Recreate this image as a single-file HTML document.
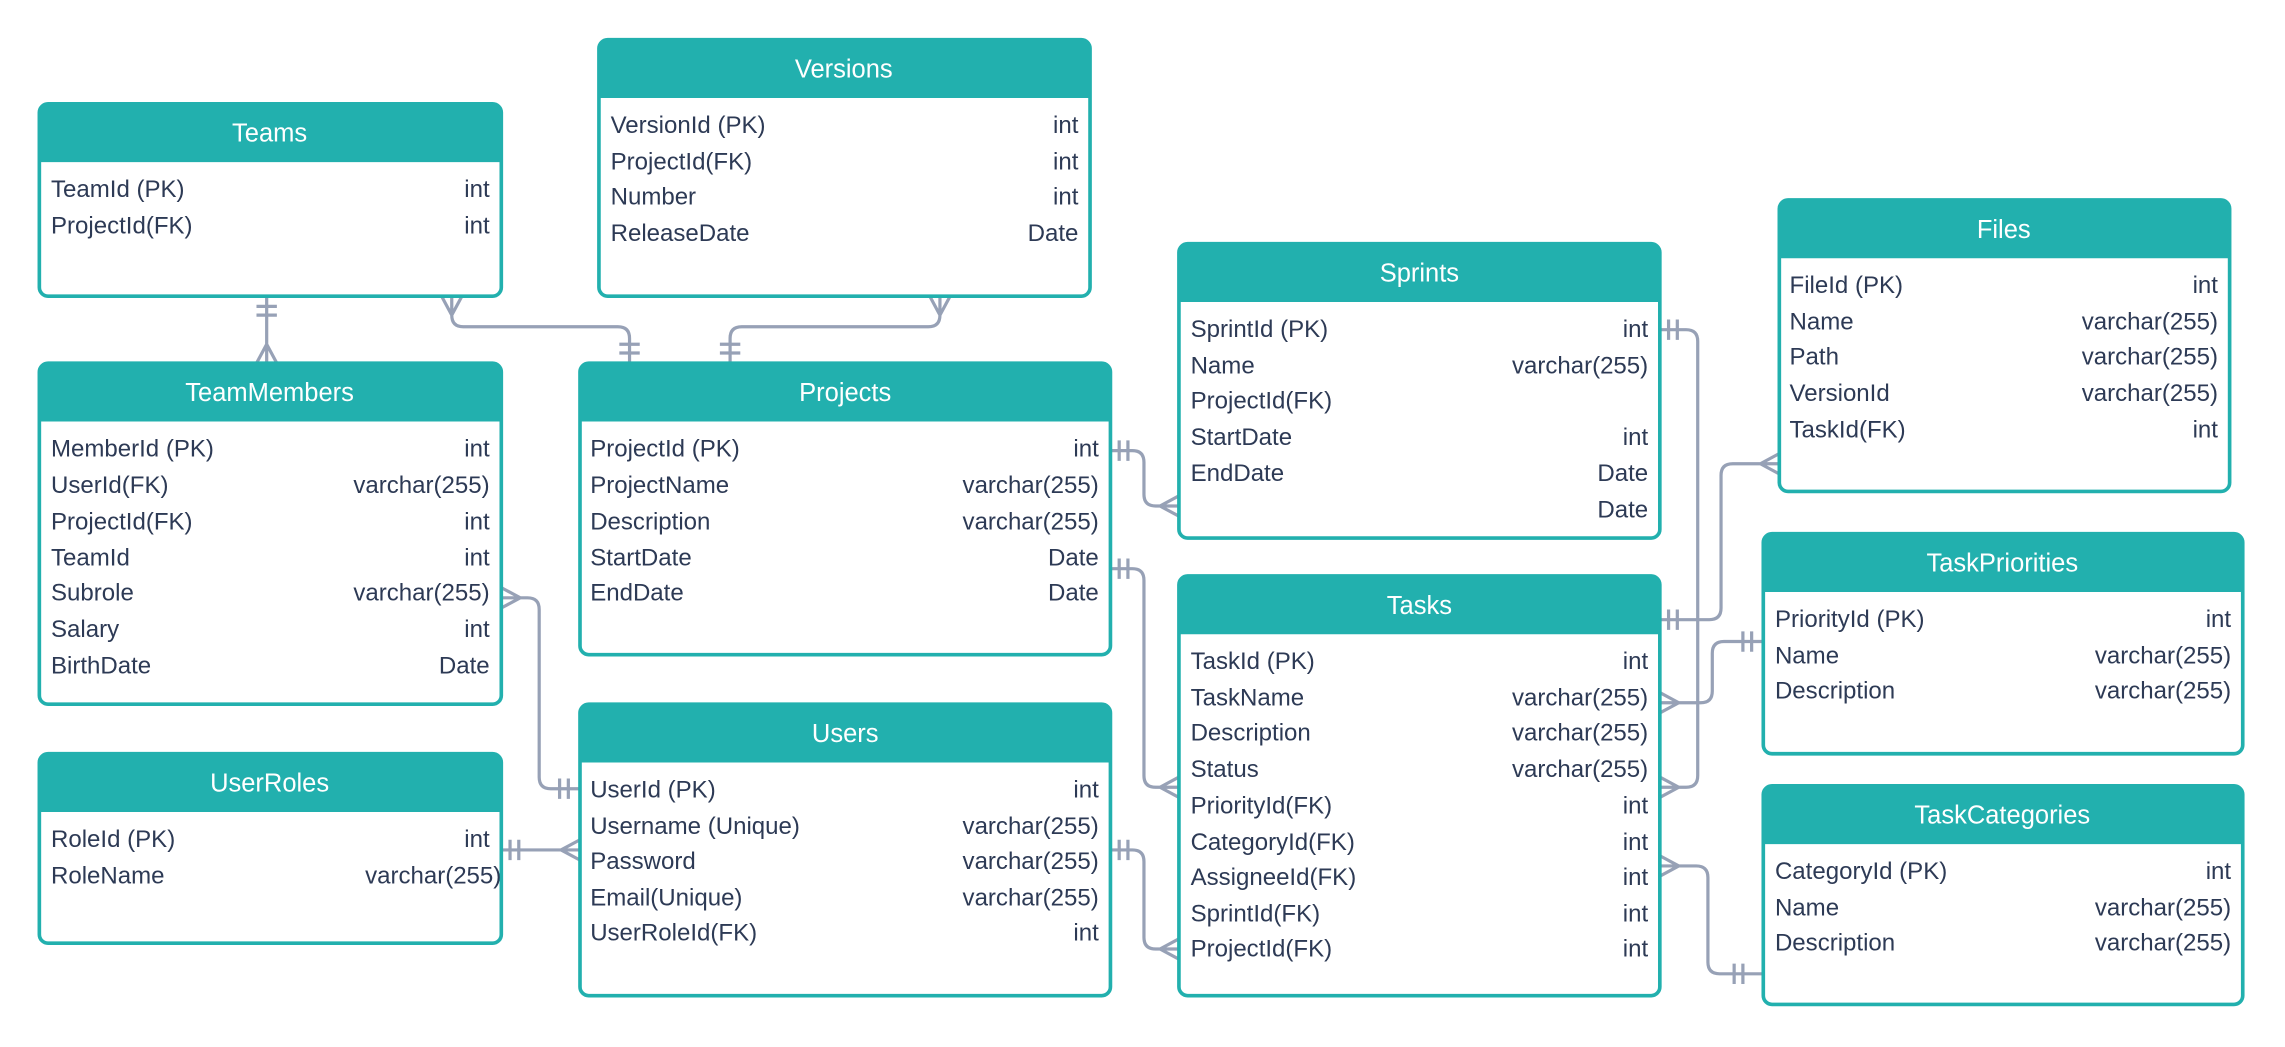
<!DOCTYPE html>
<html><head><meta charset="utf-8"><style>
html,body{margin:0;padding:0;background:#fff;}
svg{display:block}
.t{font-family:"Liberation Sans",sans-serif;font-size:16.5px;fill:#2d3a55}
.h{font-family:"Liberation Sans",sans-serif;font-size:17.5px;fill:#fff;text-anchor:middle}
.r{text-anchor:end}
.c{fill:none;stroke:#97a1b6;stroke-width:2.2}
</style></head><body>
<svg width="2285" height="1047" viewBox="0 0 1568 718" xmlns="http://www.w3.org/2000/svg">
<defs></defs>
<!-- connectors -->
<g class="c">
<path d="M183 203V249M176 210H190M176 216H190M183 236L176 249M183 236L190 249"/>
<path d="M310 203V216Q310 224 318 224H424Q432 224 432 232V249M310 216L303 203M310 216L317 203M425 236H439M425 242H439"/>
<path d="M645 203V216Q645 224 637 224H509Q501 224 501 232V249M645 216L638 203M645 216L652 203M494 236H508M494 242H508"/>
<path d="M762 309H777Q785 309 785 317V339Q785 347 793 347H809M768 302V316M774 302V316M796 347L809 340M796 347L809 354"/>
<path d="M762 390H777Q785 390 785 398V532Q785 540 793 540H809M768 383V397M774 383V397M796 540L809 533M796 540L809 547"/>
<path d="M344 410H362Q370 410 370 418V533Q370 541 378 541H398M357 410L344 403M357 410L344 417M384 534V548M390 534V548"/>
<path d="M344 583H398M350 576V590M356 576V590M385 583L398 576M385 583L398 590"/>
<path d="M762 583H777Q785 583 785 591V643Q785 651 793 651H809M768 576V590M774 576V590M796 651L809 644M796 651L809 658"/>
<path d="M1139 226H1157Q1165 226 1165 234V532Q1165 540 1157 540H1139M1145 219V233M1151 219V233M1152 540L1139 533M1152 540L1139 547"/>
<path d="M1139 425H1173Q1181 425 1181 417V326Q1181 318 1189 318H1221M1145 418V432M1151 418V432M1208 318L1221 311M1208 318L1221 325"/>
<path d="M1139 482H1167Q1175 482 1175 474V448Q1175 440 1183 440H1210M1152 482L1139 475M1152 482L1139 489M1196 433V447M1202 433V447"/>
<path d="M1139 594H1164Q1172 594 1172 602V660Q1172 668 1180 668H1210M1152 594L1139 587M1152 594L1139 601M1190 661V675M1196 661V675"/>
</g>
<!-- tables -->
<g stroke="#22b0ae" stroke-width="2.5" fill="#fff">
<rect x="27" y="71" width="317" height="132" rx="6"/>
<rect x="411" y="27" width="337" height="176" rx="6"/>
<rect x="27" y="249" width="317" height="234" rx="6"/>
<rect x="398" y="249" width="364" height="200" rx="6"/>
<rect x="809" y="167" width="330" height="202" rx="6"/>
<rect x="1221" y="137" width="309" height="200" rx="6"/>
<rect x="1210" y="366" width="329" height="151" rx="6"/>
<rect x="809" y="395" width="330" height="288" rx="6"/>
<rect x="1210" y="539" width="329" height="150" rx="6"/>
<rect x="27" y="517" width="317" height="130" rx="6"/>
<rect x="398" y="483" width="364" height="200" rx="6"/>
</g>
<g fill="#22b0ae">
<path d="M27 111V77Q27 71 33 71H338Q344 71 344 77V111Z"/>
<path d="M411 67V33Q411 27 417 27H742Q748 27 748 33V67Z"/>
<path d="M27 289V255Q27 249 33 249H338Q344 249 344 255V289Z"/>
<path d="M398 289V255Q398 249 404 249H756Q762 249 762 255V289Z"/>
<path d="M809 207V173Q809 167 815 167H1133Q1139 167 1139 173V207Z"/>
<path d="M1221 177V143Q1221 137 1227 137H1524Q1530 137 1530 143V177Z"/>
<path d="M1210 406V372Q1210 366 1216 366H1533Q1539 366 1539 372V406Z"/>
<path d="M809 435V401Q809 395 815 395H1133Q1139 395 1139 401V435Z"/>
<path d="M1210 579V545Q1210 539 1216 539H1533Q1539 539 1539 545V579Z"/>
<path d="M27 557V523Q27 517 33 517H338Q344 517 344 523V557Z"/>
<path d="M398 523V489Q398 483 404 483H756Q762 483 762 489V523Z"/>
</g>
<text class="h" x="185" y="97">Teams</text>
<text class="h" x="579" y="53">Versions</text>
<text class="h" x="185" y="275">TeamMembers</text>
<text class="h" x="580" y="275">Projects</text>
<text class="h" x="974" y="193">Sprints</text>
<text class="h" x="1375" y="163">Files</text>
<text class="h" x="1374" y="392">TaskPriorities</text>
<text class="h" x="974" y="421">Tasks</text>
<text class="h" x="1374" y="565">TaskCategories</text>
<text class="h" x="185" y="543">UserRoles</text>
<text class="h" x="580" y="509">Users</text>
<g class="t">
<text x="35" y="135">TeamId (PK)</text><text class="r" x="336" y="135">int</text>
<text x="35" y="160">ProjectId(FK)</text><text class="r" x="336" y="160">int</text>

<text x="419" y="91">VersionId (PK)</text><text class="r" x="740" y="91">int</text>
<text x="419" y="116">ProjectId(FK)</text><text class="r" x="740" y="116">int</text>
<text x="419" y="140">Number</text><text class="r" x="740" y="140">int</text>
<text x="419" y="165">ReleaseDate</text><text class="r" x="740" y="165">Date</text>

<text x="35" y="313">MemberId (PK)</text><text class="r" x="336" y="313">int</text>
<text x="35" y="338">UserId(FK)</text><text class="r" x="336" y="338">varchar(255)</text>
<text x="35" y="363">ProjectId(FK)</text><text class="r" x="336" y="363">int</text>
<text x="35" y="388">TeamId</text><text class="r" x="336" y="388">int</text>
<text x="35" y="412">Subrole</text><text class="r" x="336" y="412">varchar(255)</text>
<text x="35" y="437">Salary</text><text class="r" x="336" y="437">int</text>
<text x="35" y="462">BirthDate</text><text class="r" x="336" y="462">Date</text>

<text x="405" y="313">ProjectId (PK)</text><text class="r" x="754" y="313">int</text>
<text x="405" y="338">ProjectName</text><text class="r" x="754" y="338">varchar(255)</text>
<text x="405" y="363">Description</text><text class="r" x="754" y="363">varchar(255)</text>
<text x="405" y="388">StartDate</text><text class="r" x="754" y="388">Date</text>
<text x="405" y="412">EndDate</text><text class="r" x="754" y="412">Date</text>

<text x="817" y="231">SprintId (PK)</text><text class="r" x="1131" y="231">int</text>
<text x="817" y="256">Name</text><text class="r" x="1131" y="256">varchar(255)</text>
<text x="817" y="280">ProjectId(FK)</text>
<text x="817" y="305">StartDate</text><text class="r" x="1131" y="305">int</text>
<text x="817" y="330">EndDate</text><text class="r" x="1131" y="330">Date</text>
<text class="r" x="1131" y="355">Date</text>

<text x="1228" y="201">FileId (PK)</text><text class="r" x="1522" y="201">int</text>
<text x="1228" y="226">Name</text><text class="r" x="1522" y="226">varchar(255)</text>
<text x="1228" y="250">Path</text><text class="r" x="1522" y="250">varchar(255)</text>
<text x="1228" y="275">VersionId</text><text class="r" x="1522" y="275">varchar(255)</text>
<text x="1228" y="300">TaskId(FK)</text><text class="r" x="1522" y="300">int</text>

<text x="1218" y="430">PriorityId (PK)</text><text class="r" x="1531" y="430">int</text>
<text x="1218" y="455">Name</text><text class="r" x="1531" y="455">varchar(255)</text>
<text x="1218" y="479">Description</text><text class="r" x="1531" y="479">varchar(255)</text>

<text x="817" y="459">TaskId (PK)</text><text class="r" x="1131" y="459">int</text>
<text x="817" y="484">TaskName</text><text class="r" x="1131" y="484">varchar(255)</text>
<text x="817" y="508">Description</text><text class="r" x="1131" y="508">varchar(255)</text>
<text x="817" y="533">Status</text><text class="r" x="1131" y="533">varchar(255)</text>
<text x="817" y="558">PriorityId(FK)</text><text class="r" x="1131" y="558">int</text>
<text x="817" y="583">CategoryId(FK)</text><text class="r" x="1131" y="583">int</text>
<text x="817" y="607">AssigneeId(FK)</text><text class="r" x="1131" y="607">int</text>
<text x="817" y="632">SprintId(FK)</text><text class="r" x="1131" y="632">int</text>
<text x="817" y="656">ProjectId(FK)</text><text class="r" x="1131" y="656">int</text>

<text x="1218" y="603">CategoryId (PK)</text><text class="r" x="1531" y="603">int</text>
<text x="1218" y="628">Name</text><text class="r" x="1531" y="628">varchar(255)</text>
<text x="1218" y="652">Description</text><text class="r" x="1531" y="652">varchar(255)</text>

<text x="35" y="581">RoleId (PK)</text><text class="r" x="336" y="581">int</text>
<text x="35" y="606">RoleName</text><text class="r" x="344" y="606">varchar(255)</text>

<text x="405" y="547">UserId (PK)</text><text class="r" x="754" y="547">int</text>
<text x="405" y="572">Username (Unique)</text><text class="r" x="754" y="572">varchar(255)</text>
<text x="405" y="596">Password</text><text class="r" x="754" y="596">varchar(255)</text>
<text x="405" y="621">Email(Unique)</text><text class="r" x="754" y="621">varchar(255)</text>
<text x="405" y="645">UserRoleId(FK)</text><text class="r" x="754" y="645">int</text>
</g>
</svg>
</body></html>
